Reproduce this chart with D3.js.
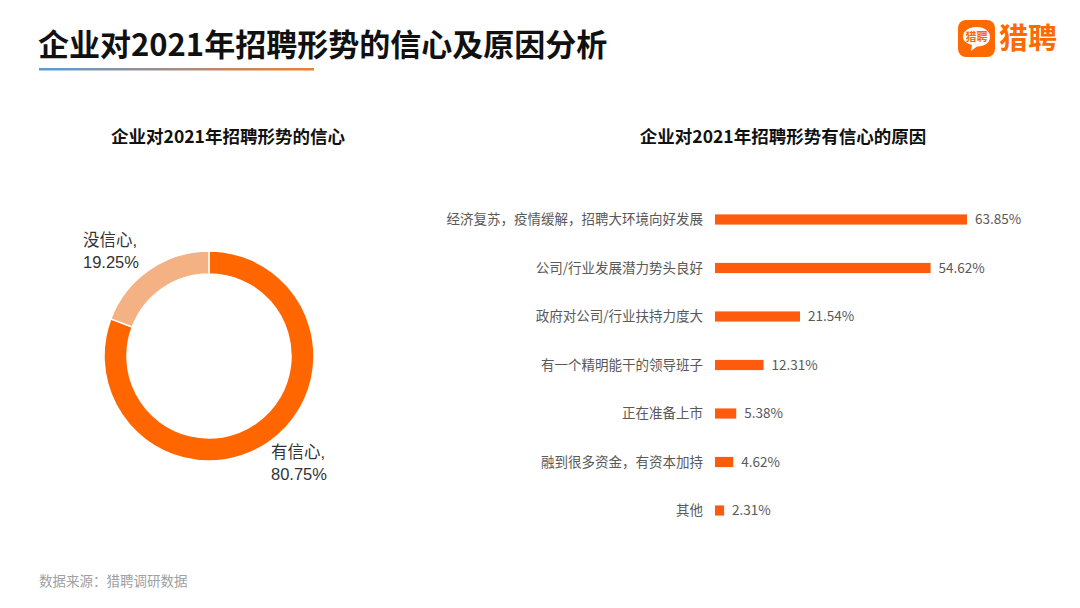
<!DOCTYPE html>
<html><head><meta charset="utf-8">
<script src="https://cdn.jsdelivr.net/npm/d3@7/dist/d3.min.js"></script>
<style>body{margin:0;background:#fff;}svg{display:block;font-family:"Noto Sans CJK SC","Microsoft YaHei",sans-serif;}</style>
</head><body>
<script>
const pieCategories = ["有信心", "没信心"];
const pieValues = [80.75, 19.25];
const barCategories = ["经济复苏，疫情缓解，招聘大环境向好发展","公司/行业发展潜力势头良好","政府对公司/行业扶持力度大","有一个精明能干的领导班子","正在准备上市","融到很多资金，有资本加持","其他"];
const barValues = [63.85, 54.62, 21.54, 12.31, 5.38, 4.62, 2.31];

const W = 1080, H = 608;
const svg = d3.select("body").append("svg").attr("width", W).attr("height", H);

// Title
svg.append("text").attr("x", 38).attr("y", 56).attr("font-size", 31).attr("font-weight", 700).attr("fill", "#111")
  .text("企业对2021年招聘形势的信心及原因分析");
const defs = svg.append("defs");
const g = defs.append("linearGradient").attr("id", "tl");
g.append("stop").attr("offset", "0%").attr("stop-color", "#5B9BD5");
g.append("stop").attr("offset", "100%").attr("stop-color", "#F07F2E");
svg.append("rect").attr("x", 39).attr("y", 68).attr("width", 275).attr("height", 2.5).attr("fill", "url(#tl)");

// Logo
const logo = svg.append("g");
logo.append("rect").attr("x", 958).attr("y", 20).attr("width", 37).attr("height", 37).attr("rx", 8).attr("fill", "#FF6A00");
logo.append("path").attr("d", "M976.5,27 C985,27 990,31.5 990,37 C990,42.5 985,46.5 977,46.5 L971,51 L972,45 C966.5,43.5 963,40.5 963,37 C963,31.5 968,27 976.5,27 Z").attr("fill", "#fff");
logo.append("text").attr("x", 976.5).attr("y", 41).attr("text-anchor", "middle").attr("font-size", 11).attr("font-weight", 700).attr("fill", "#FF6A00").text("猎聘");
logo.append("text").attr("x", 999).attr("y", 49).attr("font-size", 29).attr("font-weight", 700).attr("fill", "#FF6A00").text("猎聘");

// Subtitles
svg.append("text").attr("x", 228).attr("y", 143).attr("text-anchor", "middle").attr("font-size", 17.5).attr("font-weight", 700).attr("fill", "#111").text("企业对2021年招聘形势的信心");
svg.append("text").attr("x", 783).attr("y", 143).attr("text-anchor", "middle").attr("font-size", 17.5).attr("font-weight", 700).attr("fill", "#111").text("企业对2021年招聘形势有信心的原因");

// Donut
const pieColors = d3.scaleOrdinal().domain(pieCategories).range(["#FF6600", "#F4B183"]);
const pie = d3.pie().sort(null).value(d => d.v);
const arc = d3.arc().innerRadius(82).outerRadius(105);
const pdata = pie(pieCategories.map((c, i) => ({c, v: pieValues[i]})));
const dg = svg.append("g").attr("transform", "translate(209,356)");
dg.selectAll("path").data(pdata).enter().append("path").attr("d", arc)
  .attr("fill", d => pieColors(d.data.c)).attr("stroke", "#fff").attr("stroke-width", 1.5);
const labelPos = {"有信心": [271, 458], "没信心": [83, 246]};
pdata.forEach(d => {
  const p = labelPos[d.data.c];
  const t = svg.append("text").attr("x", p[0]).attr("y", p[1]).attr("font-size", 16.5).attr("fill", "#333")
    .attr("font-family", "'Liberation Sans','Noto Sans CJK SC',sans-serif");
  t.append("tspan").attr("x", p[0]).text(d.data.c + ",");
  t.append("tspan").attr("x", p[0]).attr("dy", 22).text(d3.format(".2f")(d.data.v) + "%");
});

// Bars
const x = d3.scaleLinear().domain([0, 63.85]).range([715, 967]);
const y = d3.scaleBand().domain(barCategories).range([195, 535]).paddingInner(0.79).paddingOuter(0.4);
const bg = svg.append("g");
barCategories.forEach((c, i) => {
  const yc = y(c) + y.bandwidth() / 2;
  bg.append("rect").attr("x", x(0)).attr("y", y(c)).attr("width", x(barValues[i]) - x(0)).attr("height", y.bandwidth()).attr("fill", "#FF5B0F");
  bg.append("text").attr("x", 703).attr("y", yc).attr("dy", "0.35em").attr("text-anchor", "end").attr("font-size", 13.5).attr("fill", "#595959").text(c);
  bg.append("text").attr("x", x(barValues[i]) + 8).attr("y", yc).attr("dy", "0.35em").attr("font-size", 13.5).attr("fill", "#595959").text(d3.format(".2f")(barValues[i]) + "%");
});

// Source
svg.append("text").attr("x", 39).attr("y", 586).attr("font-size", 13.5).attr("fill", "#A0A0A0").text("数据来源：猎聘调研数据");
</script>
</body></html>
